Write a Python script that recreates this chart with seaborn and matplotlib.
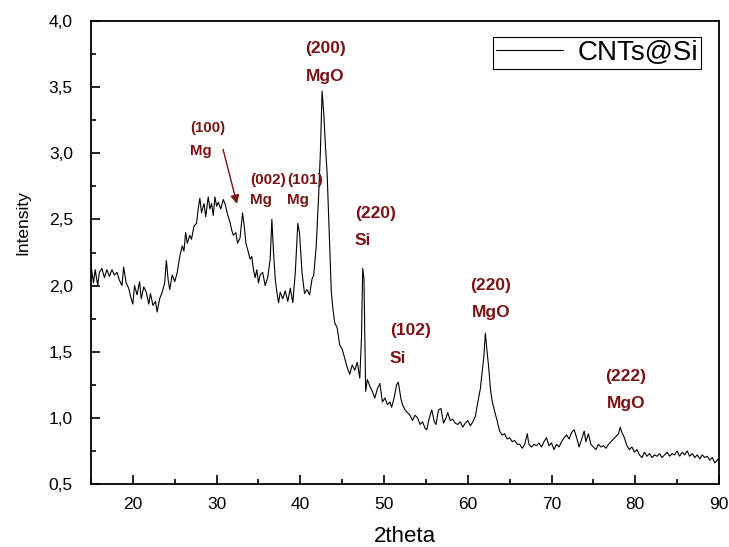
import matplotlib
matplotlib.use("Agg")
import matplotlib.pyplot as plt
from matplotlib.ticker import MultipleLocator, FixedLocator, FixedFormatter
import seaborn as sns
import pandas as pd

# XRD pattern of the CNTs@Si sample
two_theta = [
    15.0, 15.3, 15.5, 15.8, 16.0, 16.3, 16.6, 16.9, 17.2, 17.5, 17.8, 18.1, 18.4, 18.7,
    18.9, 19.2, 19.5, 19.8, 20.0, 20.2, 20.5, 20.8, 21.0, 21.3, 21.6, 21.9, 22.1, 22.4,
    22.7, 22.9, 23.2, 23.5, 23.8, 24.0, 24.2, 24.4, 24.7, 25.0, 25.3, 25.6, 25.9, 26.1,
    26.3, 26.5, 26.8, 27.0, 27.3, 27.6, 27.8, 28.0, 28.2, 28.5, 28.7, 29.0, 29.2, 29.4,
    29.6, 29.8, 30.0, 30.2, 30.5, 30.8, 31.0, 31.3, 31.6, 31.8, 32.0, 32.3, 32.5, 32.8,
    33.1, 33.3, 33.5, 33.8, 34.0, 34.2, 34.4, 34.6, 34.8, 35.0, 35.2, 35.5, 35.8, 36.1,
    36.4, 36.6, 36.8, 37.0, 37.2, 37.4, 37.6, 37.9, 38.2, 38.5, 38.8, 39.1, 39.4, 39.7,
    39.9, 40.2, 40.5, 40.8, 41.1, 41.4, 41.6, 41.9, 42.2, 42.4, 42.6, 42.8, 43.0, 43.2,
    43.5, 43.7, 43.9, 44.1, 44.4, 44.7, 45.0, 45.3, 45.6, 45.9, 46.2, 46.5, 46.8, 47.1,
    47.3, 47.45, 47.6, 47.8, 48.0, 48.3, 48.6, 48.9, 49.2, 49.5, 49.8, 50.1, 50.4, 50.7,
    50.9, 51.2, 51.5, 51.7, 52.0, 52.2, 52.5, 52.8, 53.1, 53.4, 53.7, 54.0, 54.3, 54.6,
    54.9, 55.1, 55.4, 55.7, 56.0, 56.2, 56.5, 56.8, 57.1, 57.4, 57.6, 57.9, 58.2, 58.5,
    58.8, 59.1, 59.4, 59.7, 60.0, 60.3, 60.6, 60.9, 61.2, 61.5, 61.7, 61.9, 62.1, 62.3,
    62.5, 62.7, 62.9, 63.2, 63.5, 63.8, 64.1, 64.4, 64.7, 65.0, 65.3, 65.6, 65.9, 66.2,
    66.5, 66.8, 67.1, 67.3, 67.6, 67.9, 68.2, 68.5, 68.8, 69.1, 69.4, 69.7, 70.0, 70.3,
    70.6, 70.9, 71.2, 71.5, 71.8, 72.1, 72.4, 72.7, 73.0, 73.3, 73.6, 73.9, 74.1, 74.4,
    74.7, 75.0, 75.3, 75.6, 75.9, 76.2, 76.5, 76.8, 77.1, 77.4, 77.7, 78.0, 78.2, 78.4,
    78.7, 79.0, 79.3, 79.6, 79.9, 80.2, 80.5, 80.8, 81.1, 81.4, 81.7, 82.0, 82.3, 82.6,
    82.9, 83.2, 83.5, 83.8, 84.1, 84.4, 84.7, 85.0, 85.3, 85.6, 85.9, 86.2, 86.5, 86.8,
    87.1, 87.4, 87.7, 88.0, 88.3, 88.6, 88.9, 89.2, 89.5, 89.8, 90.0,
]
intensity = [
    2.15, 2.02, 2.12, 2.00, 2.10, 2.13, 2.06, 2.12, 2.07, 2.12, 2.08, 2.10, 2.04, 2.00,
    2.14, 2.02, 1.98, 1.90, 1.86, 2.00, 1.93, 2.03, 1.90, 1.99, 1.95, 1.86, 1.94, 1.85,
    1.88, 1.80, 1.90, 1.95, 2.02, 2.19, 2.05, 1.97, 2.08, 2.03, 2.10, 2.22, 2.30, 2.26,
    2.40, 2.32, 2.38, 2.35, 2.45, 2.47, 2.58, 2.66, 2.55, 2.62, 2.52, 2.67, 2.58, 2.62,
    2.53, 2.67, 2.60, 2.63, 2.58, 2.65, 2.62, 2.54, 2.48, 2.42, 2.38, 2.40, 2.32, 2.36,
    2.55, 2.45, 2.32, 2.25, 2.20, 2.22, 2.12, 2.06, 2.12, 2.02, 2.08, 2.10, 2.00, 2.06,
    2.20, 2.50, 2.25, 2.05, 1.95, 1.87, 1.95, 1.90, 1.96, 1.88, 1.98, 1.87, 2.10, 2.47,
    2.40, 2.10, 1.94, 1.97, 1.93, 2.05, 2.08, 2.30, 2.70, 3.02, 3.47, 3.30, 3.05, 2.85,
    2.30, 1.95, 1.82, 1.72, 1.68, 1.55, 1.52, 1.45, 1.38, 1.33, 1.40, 1.36, 1.42, 1.30,
    1.60, 2.13, 2.05, 1.20, 1.29, 1.24, 1.20, 1.15, 1.22, 1.26, 1.12, 1.15, 1.10, 1.12,
    1.08, 1.15, 1.25, 1.27, 1.15, 1.10, 1.06, 1.04, 1.02, 0.98, 1.02, 1.00, 0.95, 0.97,
    0.92, 0.91, 1.00, 1.06, 0.97, 0.95, 1.06, 1.07, 0.96, 1.00, 1.04, 0.98, 0.99, 0.96,
    0.95, 0.97, 0.93, 0.96, 0.98, 0.94, 0.97, 1.01, 1.12, 1.22, 1.34, 1.45, 1.64, 1.50,
    1.38, 1.22, 1.13, 1.05, 0.98, 0.90, 0.87, 0.88, 0.84, 0.85, 0.82, 0.83, 0.80, 0.80,
    0.77, 0.80, 0.88, 0.80, 0.78, 0.80, 0.79, 0.81, 0.78, 0.82, 0.85, 0.79, 0.81, 0.76,
    0.80, 0.78, 0.82, 0.85, 0.87, 0.84, 0.89, 0.91, 0.85, 0.78, 0.84, 0.90, 0.82, 0.88,
    0.80, 0.78, 0.76, 0.80, 0.78, 0.79, 0.77, 0.80, 0.82, 0.84, 0.86, 0.88, 0.93, 0.89,
    0.85, 0.79, 0.76, 0.78, 0.74, 0.76, 0.72, 0.70, 0.74, 0.71, 0.73, 0.70, 0.72, 0.71,
    0.73, 0.70, 0.72, 0.74, 0.71, 0.73, 0.72, 0.75, 0.71, 0.74, 0.72, 0.75, 0.71, 0.73,
    0.70, 0.72, 0.69, 0.72, 0.70, 0.71, 0.68, 0.70, 0.66, 0.68, 0.70,
]
series_name = "CNTs@Si"

x_ticks = [20, 30, 40, 50, 60, 70, 80, 90]
x_tick_labels = ["20", "30", "40", "50", "60", "70", "80", "90"]
y_ticks = [0.5, 1.0, 1.5, 2.0, 2.5, 3.0, 3.5, 4.0]
y_tick_labels = ["0,5", "1,0", "1,5", "2,0", "2,5", "3,0", "3,5", "4,0"]

# Reflection labels: Miller indices and phase
peak_hkl = ["(200)", "(100)", "(002)", "(101)", "(220)", "(102)", "(220)", "(222)"]
peak_phase = ["MgO", "Mg", "Mg", "Mg", "Si", "Si", "MgO", "MgO"]

# label layout: (x, y of hkl line, y of phase line, horizontal alignment, font size)
label_layout = [
    (43.0, 3.795, 3.584, "center", 12.5),
    (26.82, 3.19, 3.017, "left", 10.8),
    (33.99, 2.798, 2.647, "left", 11.0),
    (38.41, 2.798, 2.647, "left", 11.0),
    (46.53, 2.548, 2.344, "left", 12.5),
    (50.71, 1.664, 1.452, "left", 12.5),
    (62.77, 2.004, 1.800, "center", 12.5),
    (78.90, 1.316, 1.112, "center", 12.5),
]

sns.set_style("ticks")
plt.rcParams["font.family"] = ["Liberation Sans", "DejaVu Sans"]
plt.rcParams["text.color"] = "black"
plt.rcParams["xtick.labelcolor"] = "black"
plt.rcParams["ytick.labelcolor"] = "black"

fig = plt.figure(figsize=(7.29, 5.47), dpi=100)
ax = fig.add_axes([91 / 729, 1 - 484 / 547, 628 / 729, 463 / 547])

df = pd.DataFrame({"2theta": two_theta, "Intensity": intensity})
sns.lineplot(data=df, x="2theta", y="Intensity", ax=ax, color="black",
             linewidth=0.8, label=series_name, sort=False)

ax.set_xlim(15, 90)
ax.set_ylim(0.5, 4.0)
ax.xaxis.set_major_locator(FixedLocator(x_ticks))
ax.xaxis.set_major_formatter(FixedFormatter(x_tick_labels))
ax.xaxis.set_minor_locator(MultipleLocator(5))
ax.yaxis.set_major_locator(FixedLocator(y_ticks))
ax.yaxis.set_major_formatter(FixedFormatter(y_tick_labels))
ax.yaxis.set_minor_locator(MultipleLocator(0.25))

ax.tick_params(axis="both", which="both", direction="in", color="black",
               labelcolor="black", top=False, right=False)
ax.tick_params(axis="both", which="major", length=6.5, width=1.2, labelsize=12.5)
ax.tick_params(axis="both", which="minor", length=3.6, width=1.2)
ax.tick_params(axis="x", which="major", pad=9.5)
ax.tick_params(axis="y", which="major", pad=13)

for side in ["left", "right", "top", "bottom"]:
    ax.spines[side].set_visible(True)
    ax.spines[side].set_color("black")
    ax.spines[side].set_linewidth(1.3)

ax.set_xlabel("")
ax.set_ylabel("")
fig.text(405 / 729, 1 - 537 / 547, "2theta", ha="center", va="center",
         fontsize=16, color="black")
fig.text(23 / 729, 1 - 223 / 547, "Intensity", ha="center", va="center",
         rotation=90, fontsize=12.5, color="black")

label_color = "#7a1315"
for hkl, phase, (lx, y1, y2, ha, fs) in zip(peak_hkl, peak_phase, label_layout):
    ax.text(lx, y1, hkl, ha=ha, va="center", fontsize=fs, fontweight="bold",
            color=label_color)
    ax.text(lx, y2, phase, ha=ha, va="center", fontsize=fs, fontweight="bold",
            color=label_color)

# arrow pointing at the weak Mg (100) reflection
ax.annotate("", xy=(32.44, 2.617), xytext=(30.77, 3.03),
            arrowprops=dict(arrowstyle="-|>", color=label_color, lw=1.0,
                            mutation_scale=13, shrinkA=0, shrinkB=0))

leg = ax.legend(loc="upper right", bbox_to_anchor=(0.9713, 0.9654),
                borderaxespad=0, fontsize=20, handlelength=2.4,
                handletextpad=0.54, borderpad=0.1, fancybox=False,
                framealpha=1, edgecolor="black", labelcolor="black")
leg.get_frame().set_linewidth(0.8)
for line in leg.get_lines():
    line.set_linewidth(0.8)

fig.savefig("out.png", dpi=100)
